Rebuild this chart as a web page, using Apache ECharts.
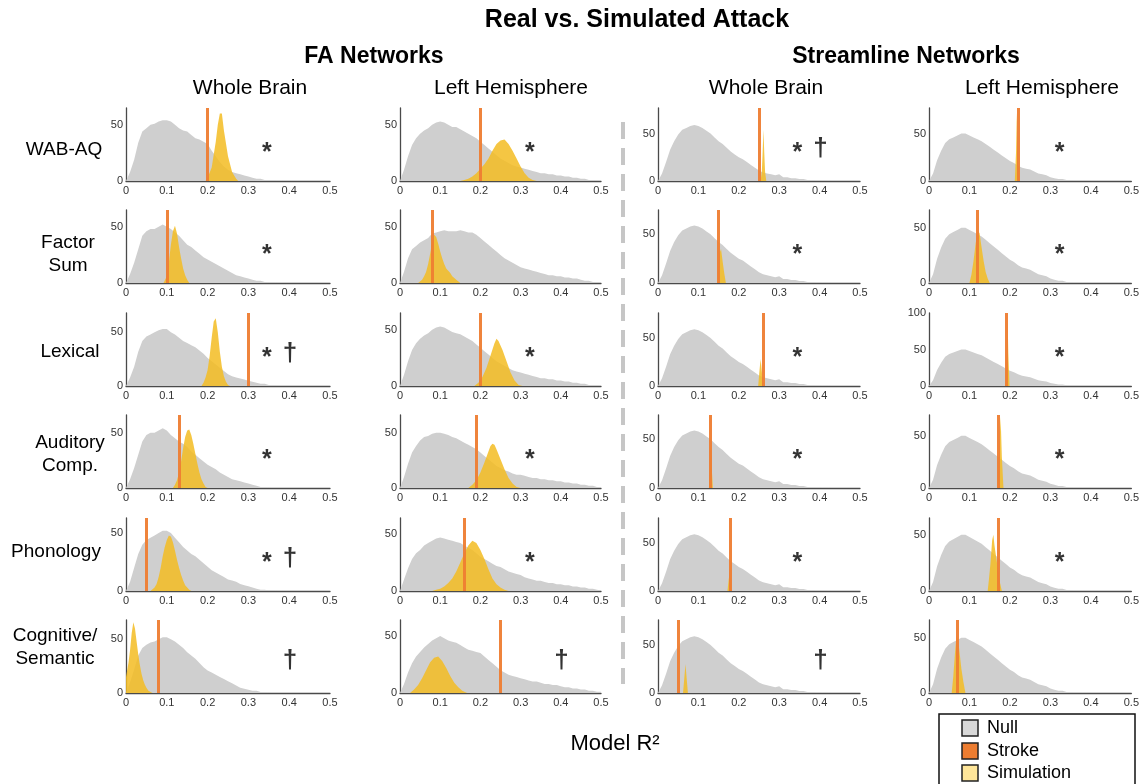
<!DOCTYPE html>
<html><head><meta charset="utf-8">
<script src="https://cdn.jsdelivr.net/npm/echarts@6/dist/echarts.min.js"></script>
<style>html,body{margin:0;padding:0;background:#fff}#c{width:1142px;height:784px}</style>
</head><body><div id="c"></div>
<script>
// ---------- DATA ----------
const rowLabels = [['WAB-AQ'], ['Factor', 'Sum'], ['Lexical'], ['Auditory', 'Comp.'], ['Phonology'], ['Cognitive/', 'Semantic']];
const colHeaders = ['Whole Brain', 'Left Hemisphere', 'Whole Brain', 'Left Hemisphere'];
const groupTitles = ['FA Networks', 'Streamline Networks'];
const legendLabels = ['Null', 'Stroke', 'Simulation'];
const xTickStep = 0.1;
const yTickStep = 50;
const binWidth = 0.01; // null histograms: bins ending at 0.01, 0.02, ...

// Null distributions (counts per 0.01 bin)
const nullFaWb1 = [8,19,34,44,47,50,51,53,54,54,53,50,47,45,44,41,38,37,35,33,27,22,17,13,10,8,7,6,5,4,3,2,2,1,1,1,0.5,0.5,0.5,0.5];
const nullFaWb2 = [8,18,30,42,46,48,48,50,52,50,48,45,42,38,34,32,29,26,23,21,19,17,15,13,11,9,7,6,5,4,3,2,2,1,0.5,0.5];
const nullFaWb3 = [8,18,32,42,46,48,50,52,53,53,50,48,45,42,40,38,36,33,30,26,23,20,17,14,11,9,8,7,6,5,4,3,2,2,1,1,0.5];
const nullFaWb4 = [8,18,30,42,48,50,50,52,54,52,48,45,42,40,37,33,30,27,24,21,19,17,14,12,10,8,7,6,5,4,3,2,1,1,0.5];
const nullFaWb5 = [8,20,32,40,44,46,48,50,52,52,50,46,42,38,35,32,30,27,24,21,18,16,14,12,10,9,8,6,5,4,3,2,1,1,0.5,0.5];
const nullFaWb6 = [10,22,35,42,45,47,48,50,52,52,50,48,45,42,38,35,32,28,24,21,19,17,15,13,11,9,7,5,4,3,2,2,1,1,0.5];
const nullFaLh1 = [10,22,32,38,42,45,47,50,52,53,52,50,48,48,46,44,42,40,38,35,32,29,26,23,20,18,16,14,13,12,11,10,9,8,7,7,6,6,5,5,4,4,3,3,2,2,1,1,1,0.5];
const nullFaLh2 = [10,22,30,33,36,38,40,44,45,46,47,46,46,46,47,46,45,45,43,40,37,34,31,28,25,22,20,18,16,14,13,12,11,10,9,8,7,7,6,6,5,5,4,4,3,2,2,1,1,0.5];
const nullFaLh3 = [10,22,32,38,42,45,47,50,52,53,52,50,48,47,46,44,42,40,37,34,31,28,25,22,20,18,16,14,13,12,11,10,9,8,7,7,6,6,5,5,4,4,3,3,2,2,1,1,1,0.5];
const nullFaLh4 = [10,22,32,38,43,46,47,49,50,50,49,48,46,45,43,41,39,37,35,32,29,26,23,20,18,16,15,13,12,12,11,10,9,9,8,8,7,7,6,6,5,5,4,4,3,3,2,2,1,0.5];
const nullFaLh5 = [10,20,28,33,36,40,42,44,46,47,46,45,44,43,42,40,38,36,33,30,28,26,24,22,21,19,17,16,15,14,12,11,10,9,9,8,7,7,6,6,5,5,4,4,3,3,2,2,1,0.5];
const nullFaLh6 = [8,18,26,32,36,40,43,46,48,50,48,46,45,44,42,40,38,37,36,35,32,29,26,23,20,18,16,15,14,13,12,11,10,10,9,8,8,7,7,6,5,5,4,4,3,3,2,2,1,1];
const nullSlWb = [8,20,33,42,49,54,56,58,59,58,56,53,50,46,42,39,35,31,28,25,23,20,17,14,11,9,8,7,6,7,4,4,3,3,2,2,1,1,0.5,0.5,0.3,0.3];
const nullSlLh = [8,22,32,40,44,46,48,50,50,48,46,44,42,39,36,33,30,27,24,21,19,16,14,13,12,10,8,7,6,4,3,2,2,1,1,0.5,0.5,0.3,0.3,0.2];

// Simulation distributions ([R2, count])
const simFaWb1 = [[0.195,0],[0.2,3],[0.21,12],[0.22,35],[0.225,50],[0.23,60],[0.235,60],[0.24,45],[0.25,22],[0.26,8],[0.27,2],[0.275,0]];
const simFaWb2 = [[0.092,0],[0.1,6],[0.105,18],[0.11,34],[0.115,46],[0.12,51],[0.125,44],[0.13,32],[0.135,22],[0.14,13],[0.145,7],[0.15,3],[0.155,0]];
const simFaWb3 = [[0.185,0],[0.19,3],[0.195,8],[0.2,15],[0.205,28],[0.21,45],[0.215,60],[0.22,63],[0.225,50],[0.23,32],[0.235,18],[0.24,9],[0.245,4],[0.25,1],[0.255,0]];
const simFaWb4 = [[0.115,0],[0.12,3],[0.125,7],[0.13,14],[0.135,24],[0.14,36],[0.145,46],[0.15,52],[0.155,53],[0.16,48],[0.165,40],[0.17,31],[0.175,22],[0.18,14],[0.185,8],[0.19,4],[0.195,1],[0.2,0]];
const simFaWb5 = [[0.06,0],[0.07,3],[0.075,6],[0.08,12],[0.085,20],[0.09,30],[0.095,38],[0.1,44],[0.105,48],[0.11,47],[0.115,42],[0.12,35],[0.125,27],[0.13,20],[0.135,14],[0.14,9],[0.145,5],[0.15,3],[0.155,1],[0.16,0]];
const simFaWb6 = [[0,15],[0.006,28],[0.01,40],[0.014,56],[0.018,66],[0.022,60],[0.026,48],[0.03,36],[0.034,26],[0.038,18],[0.042,12],[0.046,8],[0.05,5],[0.055,2],[0.065,0]];
const simFaLh1 = [[0.15,0],[0.16,1],[0.17,2],[0.18,4],[0.19,7],[0.2,11],[0.21,15],[0.22,20],[0.23,27],[0.24,33],[0.25,36],[0.26,37],[0.27,33],[0.28,27],[0.29,20],[0.3,13],[0.31,7],[0.32,3],[0.33,1],[0.34,0]];
const simFaLh2 = [[0.045,0],[0.055,3],[0.06,6],[0.065,10],[0.07,17],[0.075,26],[0.08,36],[0.085,43],[0.09,41],[0.095,35],[0.1,28],[0.105,22],[0.11,17],[0.115,13],[0.12,11],[0.125,9],[0.13,6],[0.14,3],[0.15,0]];
const simFaLh3 = [[0.185,0],[0.195,3],[0.205,8],[0.215,16],[0.225,27],[0.235,38],[0.24,42],[0.245,40],[0.255,32],[0.265,22],[0.275,12],[0.285,5],[0.295,1],[0.305,0]];
const simFaLh4 = [[0.17,0],[0.18,3],[0.19,7],[0.2,14],[0.21,23],[0.22,33],[0.225,38],[0.23,40],[0.235,39],[0.24,35],[0.25,26],[0.26,17],[0.27,9],[0.28,4],[0.29,1],[0.3,0]];
const simFaLh5 = [[0.08,0],[0.09,1],[0.1,2],[0.11,4],[0.12,7],[0.13,11],[0.14,17],[0.15,25],[0.16,33],[0.17,40],[0.18,44],[0.19,42],[0.2,36],[0.21,28],[0.22,19],[0.23,11],[0.24,6],[0.25,3],[0.26,1],[0.27,0]];
const simFaLh6 = [[0.025,0],[0.035,3],[0.045,7],[0.055,13],[0.065,20],[0.075,27],[0.085,31],[0.095,32],[0.105,28],[0.115,22],[0.125,15],[0.135,9],[0.145,5],[0.155,2],[0.167,0]];
const simSlWb1 = [[0.254,0],[0.257,10],[0.259,30],[0.261,54],[0.263,30],[0.265,10],[0.268,0]];
const simSlWb2 = [[0.148,0],[0.152,30],[0.156,35],[0.16,22],[0.164,10],[0.168,0]];
const simSlWb3 = [[0.248,0],[0.251,15],[0.254,28],[0.257,15],[0.26,0]];
const simSlWb4 = [[0.126,0],[0.129,20],[0.131,45],[0.133,20],[0.136,0]];
const simSlWb5 = [[0.172,0],[0.175,12],[0.178,20],[0.181,0]];
const simSlWb6 = [[0.062,0],[0.065,15],[0.068,30],[0.071,15],[0.074,0]];
const simSlLh1 = [[0.212,0],[0.215,30],[0.217,72],[0.219,30],[0.222,0]];
const simSlLh2 = [[0.1,0],[0.105,8],[0.11,20],[0.115,35],[0.12,48],[0.125,45],[0.13,32],[0.135,20],[0.14,10],[0.145,4],[0.15,0]];
const simSlLh3 = [[0.189,0],[0.192,45],[0.194,97],[0.196,45],[0.199,0]];
const simSlLh4 = [[0.17,0],[0.174,40],[0.177,68],[0.18,30],[0.184,0]];
const simSlLh5 = [[0.145,0],[0.148,10],[0.152,25],[0.156,45],[0.159,50],[0.162,40],[0.166,30],[0.17,20],[0.175,8],[0.18,0]];
const simSlLh6 = [[0.056,0],[0.06,15],[0.064,35],[0.068,52],[0.072,48],[0.076,35],[0.08,22],[0.085,10],[0.09,0]];

// Stroke (real attack) model R2 per row
const strokeFaWb = [0.204, 0.101, 0.296, 0.133, 0.046, 0.082];
const strokeFaLh = [0.196, 0.082, 0.204, 0.187, 0.156, 0.253];
const strokeSlWb = [0.246, 0.150, 0.257, 0.126, 0.178, 0.053];
const strokeSlLh = [0.216, 0.120, 0.194, 0.172, 0.166, 0.073];

// y-axis upper limits
const yMaxFaWb = [65, 65, 68, 66, 63, 68];
const yMaxFaLh = [65, 65, 65, 66, 64, 64];
const yMaxSlWb = [77, 75, 76, 75, 76, 76];
const yMaxSlLh = [77, 66, 100, 70, 65, 66];

// significance markers
const sigFaWb = ['*', '*', '*†', '*', '*†', '†'];
const sigFaLh = ['*', '', '*', '*', '*', '†'];
const sigSlWb = ['*†', '*', '*', '*', '*', '†'];
const sigSlLh = ['*', '*', '*', '*', '*', ''];

// ---------- BUILD ----------
const nulls = [[nullFaWb1,nullFaWb2,nullFaWb3,nullFaWb4,nullFaWb5,nullFaWb6],
               [nullFaLh1,nullFaLh2,nullFaLh3,nullFaLh4,nullFaLh5,nullFaLh6],
               [nullSlWb,nullSlWb,nullSlWb,nullSlWb,nullSlWb,nullSlWb],
               [nullSlLh,nullSlLh,nullSlLh,nullSlLh,nullSlLh,nullSlLh]];
const sims = [[simFaWb1,simFaWb2,simFaWb3,simFaWb4,simFaWb5,simFaWb6],
              [simFaLh1,simFaLh2,simFaLh3,simFaLh4,simFaLh5,simFaLh6],
              [simSlWb1,simSlWb2,simSlWb3,simSlWb4,simSlWb5,simSlWb6],
              [simSlLh1,simSlLh2,simSlLh3,simSlLh4,simSlLh5,simSlLh6]];
const strokes = [strokeFaWb, strokeFaLh, strokeSlWb, strokeSlLh];
const yMaxes = [yMaxFaWb, yMaxFaLh, yMaxSlWb, yMaxSlLh];
const sigs = [sigFaWb, sigFaLh, sigSlWb, sigSlLh];

const FONT = '"Liberation Sans", Arial, sans-serif';
const colLeft = [126, 400, 658, 929];
const colWidth = [204, 201, 202, 203];
const rowTop = [108, 210, 313, 415, 518, 620];
const panelH = 73;
const starX = [0.345, 0.323, 0.345, 0.323];
const daggerX = 0.402;

const grids = [], xAxes = [], yAxes = [], series = [];
const axisCol = '#4a4a4a';
let idx = 0;
for (let r = 0; r < 6; r++) {
  for (let c = 0; c < 4; c++) {
    const yMax = yMaxes[c][r];
    grids.push({left: colLeft[c], top: rowTop[r], width: colWidth[c], height: panelH});
    xAxes.push({gridIndex: idx, type: 'value', min: 0, max: 0.5, interval: xTickStep,
      axisLine: {show: true, onZero: false, lineStyle: {color: axisCol, width: 1.3}},
      axisTick: {show: false}, splitLine: {show: false},
      axisLabel: {fontSize: 11, color: '#333', margin: 4, fontFamily: FONT,
        formatter: v => String(Math.round(v * 10) / 10)}});
    yAxes.push({gridIndex: idx, type: 'value', min: 0, max: yMax, interval: yTickStep,
      axisLine: {show: true, onZero: false, lineStyle: {color: axisCol, width: 1.3}},
      axisTick: {show: false}, splitLine: {show: false},
      axisLabel: {fontSize: 11, color: '#333', margin: 3, fontFamily: FONT,
        showMaxLabel: yMax % yTickStep === 0}});
    // null histogram
    const nd = [[0, 0]];
    nulls[c][r].forEach((v, i) => nd.push([(i + 1) * binWidth, v]));
    nd.push([(nulls[c][r].length + 1) * binWidth, 0]);
    series.push({type: 'line', xAxisIndex: idx, yAxisIndex: idx, data: nd, symbol: 'none',
      silent: true, animation: false, z: 2,
      lineStyle: {width: 0, opacity: 0}, areaStyle: {color: '#cfcfcf', opacity: 1}});
    // simulation histogram
    series.push({type: 'line', xAxisIndex: idx, yAxisIndex: idx, data: sims[c][r], symbol: 'none',
      silent: true, animation: false, z: 3,
      lineStyle: {width: 0, opacity: 0}, areaStyle: {color: '#F3BC22', opacity: 0.85}});
    // stroke line
    series.push({type: 'line', xAxisIndex: idx, yAxisIndex: idx, data: [], symbol: 'none',
      silent: true, animation: false, z: 4,
      markLine: {symbol: ['none', 'none'], silent: true, animation: false, label: {show: false},
        lineStyle: {color: '#EE7D31', width: 3, type: 'solid', opacity: 0.95},
        data: [{xAxis: strokes[c][r]}]}});
    // significance markers
    const marks = [];
    for (const ch of sigs[c][r]) {
      const isStar = ch === '*';
      marks.push({value: [isStar ? starX[c] : daggerX, yMax * 0.46],
        label: {show: true, position: 'inside', formatter: ch, color: '#000',
          fontFamily: FONT, fontWeight: 'bold', fontSize: isStar ? 25 : 26,
          offset: isStar ? [0, 6] : [0, 1]}});
    }
    series.push({type: 'scatter', xAxisIndex: idx, yAxisIndex: idx, data: marks, symbolSize: 0,
      silent: true, animation: false, z: 5});
    idx++;
  }
}

// text & decorations
const graphic = [];
const txt = (text, x, y, font, align) => graphic.push({type: 'text', x: x, y: y, silent: true,
  style: {text: text, font: font, fill: '#000', textAlign: align || 'center', textVerticalAlign: 'middle'}});
txt('Real vs. Simulated Attack', 637, 20, 'bold 25px ' + FONT);
txt(groupTitles[0], 374, 57, 'bold 23px ' + FONT);
txt(groupTitles[1], 906, 57, 'bold 23px ' + FONT);
const headX = [250, 511, 766, 1042];
colHeaders.forEach((h, i) => txt(h, headX[i], 88, '21px ' + FONT));
const rowLabX = [64, 68, 70, 70, 56, 55];
const rowLabY = [[150], [243, 266], [352], [443, 466], [552], [636, 659]];
rowLabels.forEach((lines, r) => lines.forEach((l, k) => txt(l, rowLabX[r], rowLabY[r][k], '19px ' + FONT)));
txt('Model R\u00B2', 615, 744, '22px ' + FONT);
graphic.push({type: 'line', silent: true, shape: {x1: 623, y1: 122, x2: 623, y2: 684},
  style: {stroke: '#c6c6c6', lineWidth: 4, lineDash: [17, 9]}});
graphic.push({type: 'rect', silent: true, shape: {x: 939, y: 714, width: 196, height: 80},
  style: {fill: '#fff', stroke: '#111', lineWidth: 1.5}});
const legCols = ['#D9D9D9', '#ED7D31', '#FFE699'];
const legY = [728, 751, 773];
legendLabels.forEach((l, i) => {
  graphic.push({type: 'rect', silent: true, shape: {x: 962, y: legY[i] - 8, width: 16, height: 16},
    style: {fill: legCols[i], stroke: '#222', lineWidth: 1.5}});
  txt(l, 987, legY[i], '18px ' + FONT, 'left');
});

const chart = echarts.init(document.getElementById('c'), null, {renderer: 'canvas'});
chart.setOption({animation: false, backgroundColor: '#fff', grid: grids, xAxis: xAxes, yAxis: yAxes,
  series: series, graphic: graphic});
</script></body></html>
